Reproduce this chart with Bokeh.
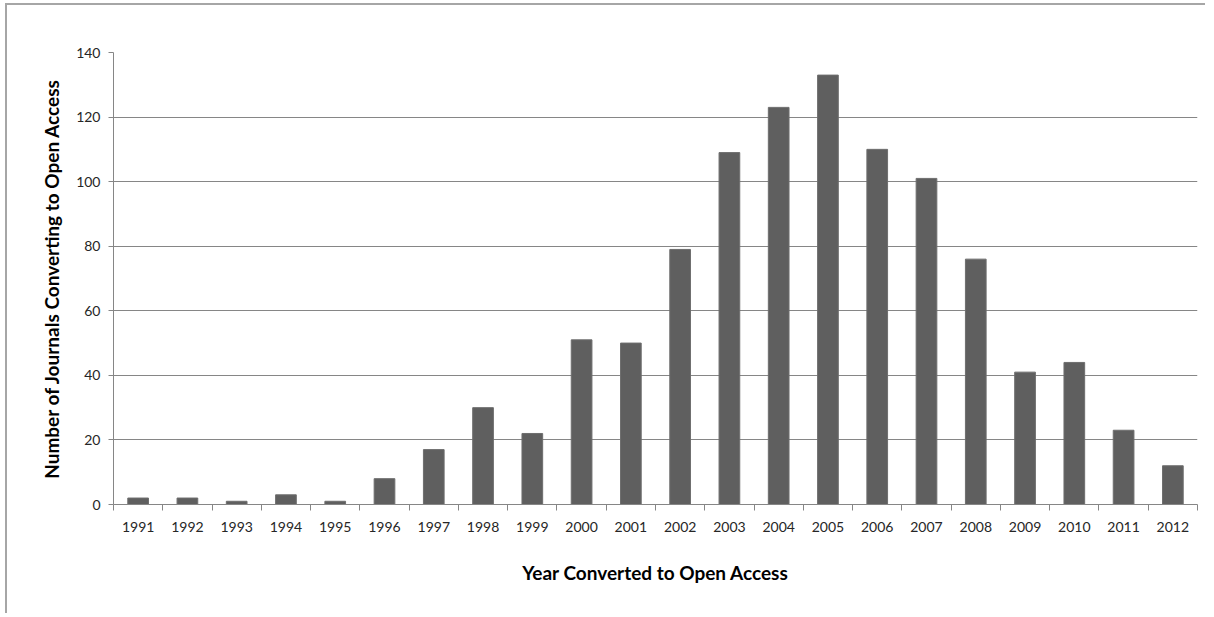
from bokeh.plotting import figure
from bokeh.models import Range1d, FixedTicker, ColumnDataSource
from bokeh.embed import file_html
from bokeh.resources import INLINE

years = ["1991", "1992", "1993", "1994", "1995", "1996", "1997", "1998", "1999", "2000", "2001",
         "2002", "2003", "2004", "2005", "2006", "2007", "2008", "2009", "2010", "2011", "2012"]
counts = [2, 2, 1, 3, 1, 8, 17, 30, 22, 51, 50, 79, 109, 123, 133, 110, 101, 76, 41, 44, 23, 12]
y_ticks = [0, 20, 40, 60, 80, 100, 120, 140]

xpos = [i + 0.5 for i in range(len(years))]
src = ColumnDataSource(dict(x=xpos, top=counts, year=years))

FONT = "Lato"
GRID = "#868686"

p = figure(width=1200, height=610, output_backend="svg", toolbar_location=None,
           x_range=Range1d(0, len(years)), y_range=Range1d(0, 140),
           min_border_left=106, min_border_right=10, min_border_top=47, min_border_bottom=111)
p.styles = {"margin-left": "5px", "margin-top": "3px",
            "border-left": "2px solid #a6a6a6", "border-top": "2px solid #a6a6a6"}
p.outline_line_color = None
p.background_fill_color = "white"
p.border_fill_color = "white"

p.vbar(x="x", top="top", width=0.42, source=src, fill_color="#5f5f5f", line_color="#6e6e6e", line_width=1)

# x axis: labels at category centres, ticks at category boundaries
p.xaxis.ticker = FixedTicker(ticks=xpos, minor_ticks=list(range(len(years) + 1)))
p.xaxis.major_label_overrides = {x: y for x, y in zip(xpos, years)}
p.xaxis.major_tick_line_color = None
p.xaxis.major_tick_out = 0
p.xaxis.major_tick_in = 0
p.xaxis.minor_tick_out = 6
p.xaxis.minor_tick_in = 0
p.xaxis.minor_tick_line_color = GRID
p.xaxis.axis_line_color = GRID
p.xaxis.major_label_standoff = 11
p.xaxis.major_label_text_font = FONT
p.xaxis.major_label_text_font_size = "14px"
p.xaxis.major_label_text_color = "#262626"
p.xaxis.axis_label = "Year Converted to Open Access"
p.xaxis.axis_label_text_font = FONT
p.xaxis.axis_label_text_font_style = "bold"
p.xaxis.axis_label_text_font_size = "19px"
p.xaxis.axis_label_text_color = "#000000"
p.xaxis.axis_label_standoff = 26

p.yaxis.ticker = FixedTicker(ticks=y_ticks, minor_ticks=[])
p.yaxis.major_tick_out = 5
p.yaxis.major_tick_in = 0
p.yaxis.major_tick_line_color = GRID
p.yaxis.axis_line_color = GRID
p.yaxis.major_label_standoff = 8
p.yaxis.major_label_text_font = FONT
p.yaxis.major_label_text_font_size = "14px"
p.yaxis.major_label_text_color = "#262626"
p.yaxis.axis_label = "Number of Journals Converting to Open Access"
p.yaxis.axis_label_text_font = FONT
p.yaxis.axis_label_text_font_style = "bold"
p.yaxis.axis_label_text_font_size = "19px"
p.yaxis.axis_label_text_color = "#000000"
p.yaxis.axis_label_standoff = 10

p.xgrid.grid_line_color = None
p.ygrid.ticker = FixedTicker(ticks=y_ticks)
p.ygrid.grid_line_color = GRID
p.ygrid.grid_line_width = 1

open("out.html", "w").write(file_html(p, INLINE))
